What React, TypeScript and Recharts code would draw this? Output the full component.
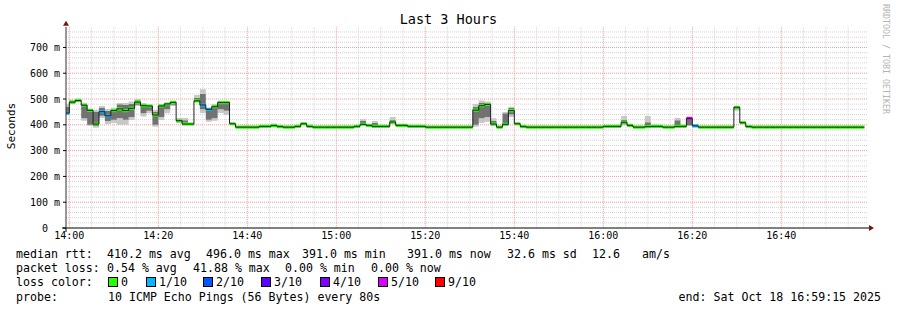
// SmokePing "Last 3 Hours" graph: grey smoke = spread of the 10 pings per
// 80 s step, the thin band on top is the median coloured by packet loss.
import {
  Area,
  CartesianGrid,
  ComposedChart,
  Line,
  ReferenceDot,
  XAxis,
  YAxis,
} from "recharts";

const MONO = "'DejaVu Sans Mono', monospace";

// minutes relative to 14:00:00; the graph starts at 13:59:15, ends 16:59:15
const START = -0.75;
const END = 179.25;
const STEP = 80 / 60;

// median rtt (ms) per step, step -1 (the clipped one) first
const median = [
  446, 488, 494, 476, 456, 403, 451, 435, 455, 462, 455, 464, 488, 474, 473,
  438, 473, 481, 487, 416, 403, 403, 493, 477, 460, 470, 486, 486, 404, 391,
  391, 391, 391, 394, 394, 397, 393, 391, 391, 394, 404, 394, 391, 391, 391,
  391, 391, 391, 391, 394, 402, 398, 394, 394, 394, 411, 398, 398, 394, 394,
  394, 391, 391, 391, 391, 391, 391, 391, 391, 457, 474, 479, 403, 391, 402,
  455, 404, 393, 391, 391, 391, 391, 391, 391, 391, 391, 391, 391, 391, 391,
  391, 394, 394, 394, 410, 398, 391, 391, 393, 394, 394, 391, 391, 394, 394,
  425, 396, 391, 391, 391, 391, 391, 391, 468, 408, 393, 391, 391, 391, 391,
  391, 391, 391, 391, 391, 391, 391, 391, 391, 391, 391, 391, 391, 391, 391,
];

// lost pings out of 10, same steps
const loss = [
  1, 0, 0, 0, 0, 0, 1, 1, 0, 0, 0, 0, 0, 0, 0,
  0, 0, 0, 0, 0, 0, 0, 0, 1, 1, 0, 0, 0, 0, 0,
  0, 0, 0, 0, 0, 0, 0, 0, 0, 0, 0, 0, 0, 0, 0,
  0, 0, 0, 0, 0, 0, 0, 0, 0, 0, 0, 0, 0, 0, 0,
  0, 0, 0, 0, 0, 0, 0, 0, 0, 0, 0, 0, 0, 0, 0,
  0, 0, 0, 0, 0, 0, 0, 0, 0, 0, 0, 0, 0, 0, 0,
  0, 0, 0, 0, 0, 0, 0, 0, 0, 0, 0, 0, 0, 0, 0,
  5, 1, 0, 0, 0, 0, 0, 0, 0, 0, 0, 0, 0, 0, 0,
  0, 0, 0, 0, 0, 0, 0, 0, 0, 0, 0, 0, 0, 0, 0,
];

// steps that show smoke: outer (lightest) and core (darker) ranges, ms
const smokeStep = [-1, 0, 1, 2, 3, 4, 5, 6, 7, 8, 9, 10, 11, 12, 13, 14, 15, 16, 17, 18, 19, 21, 22, 23, 24, 25, 26, 34, 39, 49, 51, 54, 68, 69, 70, 71, 73, 74, 93, 97, 102, 104, 112, 113];
const smokeLo = [438, 480, 488, 416, 396, 389, 426, 403, 407, 400, 400, 419, 473, 432, 445, 393, 419, 445, 473, 408, 408, 490, 446, 412, 416, 446, 438, 394, 400, 398, 394, 402, 393, 407, 412, 395, 395, 430, 398, 392, 394, 395, 455, 404];
const smokeHi = [481, 497, 502, 486, 460, 457, 473, 461, 466, 485, 485, 490, 500, 485, 478, 457, 481, 483, 492, 426, 426, 516, 538, 465, 481, 493, 493, 405, 411, 422, 415, 430, 481, 494, 490, 425, 450, 470, 434, 434, 426, 425, 470, 415];
const coreLo = [440, 484, 490, 425, 400, 395, 435, 415, 420, 426, 420, 430, 478, 445, 455, 400, 430, 460, 478, 410, 408, 492, 460, 420, 425, 460, 455, 396, 402, 400, 396, 405, 400, 425, 430, 398, 398, 440, 402, 394, 396, 398, 460, 406];
const coreHi = [470, 494, 498, 482, 456, 450, 465, 455, 460, 480, 478, 482, 495, 480, 476, 450, 476, 480, 490, 420, 418, 505, 520, 462, 476, 490, 490, 402, 408, 415, 408, 420, 470, 485, 485, 415, 445, 465, 420, 410, 418, 420, 468, 412];

const lossLevels = [0, 1, 2, 3, 4, 5, 9];
const lossColors = ["#26ff00", "#00b8ff", "#0059ff", "#5e00ff", "#7e00ff", "#dd00ff", "#ff0000"];
const lossNames = ["0", "1/10", "2/10", "3/10", "4/10", "5/10", "9/10"];

const timeTicks = [0, 20, 40, 60, 80, 100, 120, 140, 160];
const timeLabels = ["14:00", "14:20", "14:40", "15:00", "15:20", "15:40", "16:00", "16:20", "16:40"];
const rttTicks = [0, 100, 200, 300, 400, 500, 600, 700];
const rttLabels = ["0\u00a0\u00a0", "100\u00a0m", "200\u00a0m", "300\u00a0m", "400\u00a0m", "500\u00a0m", "600\u00a0m", "700\u00a0m"];

const BAND = 6; // half height of the median band, ms

const minorRtt: number[] = [];
for (let v = 20; v <= 760; v += 20) if (v % 100) minorRtt.push(v);
const minorTime: number[] = [];
for (let m = 5; m < END; m += 5) if (m % 20) minorTime.push(m);

function row(i: number, t: number) {
  const m = median[i];
  const s = smokeStep.indexOf(i - 1);
  const lo = s < 0 ? m : smokeLo[s];
  const hi = s < 0 ? m : smokeHi[s];
  const cl = s < 0 ? m : coreLo[s];
  const ch = s < 0 ? m : coreHi[s];
  const r: Record<string, number> = {
    t,
    med: m,
    sBase: lo,
    sLow: cl - lo,
    sCore: ch - cl,
    sHigh: hi - ch,
    bBase: m - BAND,
  };
  lossLevels.forEach(l => (r["l" + l] = loss[i] === l ? 2 * BAND : 0));
  return r;
}

const rows = median.map((_, i) => row(i, i === 0 ? START : (i - 1) * STEP));
rows.push(row(median.length - 1, (median.length - 1) * STEP));

const legendRows: { y: number; items: [number, string][] }[] = [
  {
    y: 253.5,
    items: [
      [16, "median rtt:"],
      [107, "410.2 ms avg"],
      [206, "496.0 ms max"],
      [302, "391.0 ms min"],
      [407, "391.0 ms now"],
      [507, "32.6 ms sd"],
      [592, "12.6"],
      [642, "am/s"],
    ],
  },
  {
    y: 268.3,
    items: [
      [16, "packet loss:"],
      [107, "0.54 % avg"],
      [193, "41.88 % max"],
      [285, "0.00 % min"],
      [371, "0.00 % now"],
    ],
  },
  { y: 282, items: [[16, "loss color:"]] },
  {
    y: 296.7,
    items: [
      [16, "probe:"],
      [108, "10 ICMP Echo Pings (56 Bytes) every 80s"],
    ],
  },
];
const swatchX = [108, 146, 203, 261, 320, 378, 435];

const text = (x: number, y: number, s: string, size = 11.6) => (
  <span
    key={s + x}
    style={{
      position: "absolute",
      left: x,
      top: y - 7,
      lineHeight: "14px",
      fontSize: size,
      fontFamily: MONO,
      whiteSpace: "pre",
      color: "#000",
    }}
  >
    {s}
  </span>
);

export default function App() {
  return (
    <div style={{ position: "absolute", left: 0, top: 0, width: 897, height: 310, background: "#fff", overflow: "hidden" }}>
      <ComposedChart
        width={897}
        height={310}
        data={rows}
        margin={{ top: 26.8, right: 30, bottom: 62, left: 26 }}
      >
        <CartesianGrid
          horizontalValues={minorRtt}
          verticalValues={minorTime}
          stroke="#d4d4d4"
          strokeDasharray="1 1"
        />
        <CartesianGrid
          horizontalValues={rttTicks.slice(1)}
          verticalValues={timeTicks}
          stroke="#f29a9a"
          strokeDasharray="1 1"
        />
        <XAxis
          type="number"
          dataKey="t"
          domain={[START, END]}
          allowDataOverflow
          ticks={timeTicks}
          tickFormatter={(v: number) => timeLabels[timeTicks.indexOf(v)]}
          height={20}
          axisLine={{ stroke: "#000" }}
          tickLine={false}
          tickSize={3}
          tickMargin={1}
          tick={{ fill: "#000", fontSize: 10, fontFamily: MONO }}
        />
        <YAxis
          type="number"
          domain={[0, 780]}
          allowDataOverflow
          ticks={rttTicks}
          tickFormatter={(v: number) => rttLabels[rttTicks.indexOf(v)]}
          width={40}
          axisLine={{ stroke: "#333" }}
          tickLine={{ stroke: "#000" }}
          tickSize={3}
          tickMargin={3}
          tick={{ fill: "#000", fontSize: 10, fontFamily: MONO, width: 60 }}
        />
        <Area type="stepAfter" dataKey="sBase" stackId="s" fill="none" stroke="none" isAnimationActive={false} />
        <Area type="stepAfter" dataKey="sLow" stackId="s" fill="#c8c8c8" fillOpacity={1} stroke="none" isAnimationActive={false} />
        <Area type="stepAfter" dataKey="sCore" stackId="s" fill="#727272" fillOpacity={1} stroke="none" isAnimationActive={false} />
        <Area type="stepAfter" dataKey="sHigh" stackId="s" fill="#c8c8c8" fillOpacity={1} stroke="none" isAnimationActive={false} />
        <Line type="stepAfter" dataKey="med" stroke="#202020" strokeWidth={1} dot={false} activeDot={false} isAnimationActive={false} />
        <Area type="stepAfter" dataKey="bBase" stackId="b" fill="none" stroke="none" isAnimationActive={false} />
        {lossLevels.map((l, i) => (
          <Area
            key={l}
            type="stepAfter"
            dataKey={"l" + l}
            stackId="b"
            fill={lossColors[i]}
            fillOpacity={1}
            stroke="none"
            isAnimationActive={false}
          />
        ))}
        <ReferenceDot
          x={START}
          y={0}
          ifOverflow="visible"
          shape={(p: any) => (
            <g stroke="#000">
              <line x1={p.cx - 4} y1={p.cy} x2={p.cx} y2={p.cy} />
              <line x1={p.cx} y1={p.cy} x2={p.cx} y2={p.cy + 4} />
            </g>
          )}
        />
        <ReferenceDot
          x={END}
          y={0}
          ifOverflow="visible"
          shape={(p: any) => (
            <g>
              <line x1={p.cx} y1={p.cy} x2={p.cx + 3} y2={p.cy} stroke="#000" />
              <path d={`M${p.cx + 2},${p.cy - 3}L${p.cx + 7},${p.cy}L${p.cx + 2},${p.cy + 3}Z`} fill="#7a1414" />
            </g>
          )}
        />
        <ReferenceDot
          x={START}
          y={780}
          ifOverflow="visible"
          shape={(p: any) => (
            <path d={`M${p.cx - 3},${p.cy - 1}L${p.cx},${p.cy - 6}L${p.cx + 3},${p.cy - 1}Z`} fill="#7a1414" />
          )}
        />
      </ComposedChart>

      <div
        style={{
          position: "absolute",
          left: 0,
          width: 897,
          top: 11,
          textAlign: "center",
          fontSize: 13.5,
          lineHeight: "16px",
          fontFamily: MONO,
        }}
      >
        Last 3 Hours
      </div>
      <div
        style={{
          position: "absolute",
          left: 11,
          top: 126,
          transform: "translate(-50%, -50%) rotate(-90deg)",
          fontSize: 11,
          fontFamily: MONO,
          whiteSpace: "pre",
        }}
      >
        Seconds
      </div>
      <div
        style={{
          position: "absolute",
          left: 886,
          top: 59,
          transform: "translate(-50%, -50%) rotate(90deg)",
          fontSize: 8.3,
          fontFamily: MONO,
          color: "#b4b4b4",
          whiteSpace: "pre",
        }}
      >
        RRDTOOL / TOBI OETIKER
      </div>

      {legendRows.map(r => r.items.map(([x, s]) => text(x, r.y, s)))}
      {lossNames.map((n, i) => (
        <span key={n}>
          <span
            style={{
              position: "absolute",
              left: swatchX[i],
              top: 277,
              width: 8,
              height: 8,
              border: "1px solid #000",
              background: lossColors[i],
            }}
          />
          {text(swatchX[i] + 13, 282, n)}
        </span>
      ))}
      <span
        style={{
          position: "absolute",
          right: 16,
          top: 296.7 - 7,
          lineHeight: "14px",
          fontSize: 11.6,
          fontFamily: MONO,
          whiteSpace: "pre",
        }}
      >
        end: Sat Oct 18 16:59:15 2025
      </span>
    </div>
  );
}
